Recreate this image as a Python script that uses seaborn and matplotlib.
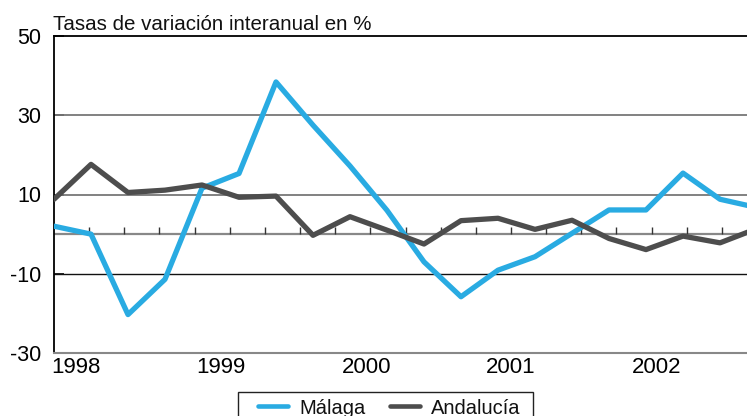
import numpy as np
import pandas as pd
import matplotlib
matplotlib.use("Agg")
import matplotlib.pyplot as plt
from matplotlib.lines import Line2D
from matplotlib.patches import Rectangle
import seaborn as sns

# ---- data (quarterly, 1998Q1 .. 2002Q4) ----
quarters = list(range(20))
malaga = [2.0, 0.0, -20.3, -11.4, 11.6, 15.3, 38.4, 27.5, 17.2, 6.0,
          -7.0, -15.8, -9.1, -5.7, 0.2, 6.1, 6.1, 15.4, 8.8, 6.7]
andalucia = [8.8, 17.6, 10.5, 11.1, 12.4, 9.3, 9.6, -0.3, 4.4, 1.0,
             -2.5, 3.4, 4.0, 1.2, 3.5, -1.1, -3.9, -0.5, -2.2, 1.4]
series_names = ["Málaga", "Andalucía"]
year_labels = ["1998", "1999", "2000", "2001", "2002"]
yticks = [50, 30, 10, -10, -30]
title = "Tasas de variación interanual en %"

df = pd.DataFrame({
    "q": quarters * 2,
    "v": malaga + andalucia,
    "serie": [series_names[0]] * 20 + [series_names[1]] * 20,
})

sns.set_theme(style="white")
plt.rcParams["font.family"] = ["Liberation Sans", "DejaVu Sans"]

W, H = 747, 416
fig = plt.figure(figsize=(W / 100, H / 100), dpi=100)
ax = fig.add_axes([54 / W, (H - 353) / H, (757 - 54) / W, (353 - 36) / H])

palette = {"Málaga": "#29abe2", "Andalucía": "#4d4d4d"}
sns.lineplot(data=df, x="q", y="v", hue="serie", palette=palette,
             linewidth=3.8, ax=ax, legend=False, zorder=5)

ax.set_xlim(0, 19)
ax.set_ylim(-30, 50)

# grid / reference lines
ax.axhline(30, color="#777777", lw=1.3, zorder=1)
ax.axhline(10, color="#777777", lw=1.3, zorder=1)
ax.axhline(-10, color="#111111", lw=1.0, zorder=1)
ax.axhline(0, color="#888888", lw=1.6, zorder=1)
# small quarter ticks on the zero line
tick_pos = np.arange(1, 21) * 0.95
ax.vlines(tick_pos, 0, 1.8, color="#333333", lw=1.0, zorder=2)

for s in ["left", "top"]:
    ax.spines[s].set_color("black")
    ax.spines[s].set_linewidth(1.3)
ax.spines["bottom"].set_color("#888888")
ax.spines["bottom"].set_linewidth(1.5)
ax.spines["right"].set_visible(False)

ax.set_yticks(yticks)
ax.set_yticklabels([str(t) for t in yticks], fontsize=15.5, color="black")
ax.tick_params(axis="y", direction="in", length=7, width=1.2, color="black", pad=9,
               left=True)
ax.set_xticks([0.6, 4.5, 8.45, 12.35, 16.3])
ax.set_xticklabels(year_labels, fontsize=16, color="black")
ax.tick_params(axis="x", length=0, pad=3)
ax.set_xlabel("")
ax.set_ylabel("")

fig.text(53 / W, 1 - 30 / H, title, fontsize=14.8, color="#111111", va="baseline", ha="left")

# legend (frame drawn separately so the left padding matches the reference)
handles = [Line2D([], [], color=palette[n], lw=3.3) for n in series_names]
leg = fig.legend(handles, series_names, loc="center left",
                 bbox_to_anchor=(258 / W, 1 - 408 / H),
                 ncol=2, fontsize=14.5, frameon=False,
                 handlelength=1.5, columnspacing=1.2, borderpad=0, borderaxespad=0,
                 handletextpad=0.55)
for t in leg.get_texts():
    t.set_color("#111111")
fig.patches.append(Rectangle((237.5 / W, -0.2), (533 - 237.5) / W, 0.2 + (H - 391.5) / H,
                             transform=fig.transFigure, fill=False,
                             edgecolor="#222222", lw=1.0, figure=fig))

fig.savefig("out.png", dpi=100)
